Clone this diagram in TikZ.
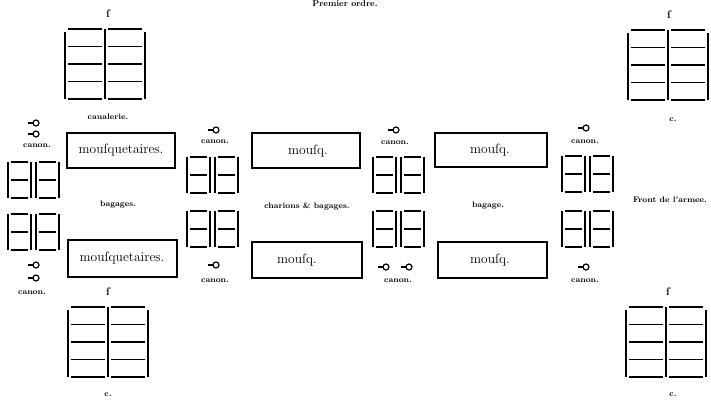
\documentclass[tikz,border=0pt]{standalone}
\begin{document}
\begin{tikzpicture}[x=1pt,y=-1pt,line width=1.3pt,
    lbl/.style={font=\fontsize{8}{8}\selectfont\bfseries,inner sep=0pt},
    sig/.style={font=\fontsize{11}{11}\selectfont\bfseries,inner sep=0pt},
    troop/.style={font=\fontsize{13.5}{14}\selectfont,inner sep=0pt}]
  \useasboundingbox (0,0) rectangle (711,400);
  \node[font=\fontsize{8.5}{9}\selectfont\bfseries,inner sep=0pt] (title) at (345,4) {Premier ordre.};
  % squadrons of horse
  \foreach \x/\y in {65/29, 68/307, 628/30, 626/307} {
    \foreach \r in {0,17.5,35,52.5,70}
      \draw (\x+3,\y+\r) -- ++(34,0) (\x+43,\y+\r) -- ++(34,0);
    \draw (\x,\y+3) -- ++(0,67) (\x+40,\y) -- ++(0,70) (\x+80,\y+3) -- ++(0,67);
  }
  % pikes
  \foreach \x/\y in {8/162, 8/214, 187/157, 187/211, 373/157, 373/211, 562/156, 562/211} {
    \foreach \dx in {0,28} {
      \draw (\x+\dx,\y) -- ++(0,36) (\x+\dx+23,\y) -- ++(0,36);
      \foreach \r in {0,18,36} \draw (\x+\dx+3,\y+\r) -- ++(17,0);
    }
  }
  % cannons
  \foreach \x/\y in {35/123, 35/134, 215/130, 395/130, 585/128, 35/265, 35/278, 215/265, 385/267, 408/267, 585/267} {
    \draw[line width=1.4pt] (\x-7,\y) -- (\x-2,\y);
    \draw[line width=1.2pt] (\x+1,\y) circle (3);
  }
  % musketeers
  \draw (67,133) rectangle (175,168);
  \draw (68,240) rectangle (177,277);
  \draw (252,133) rectangle (360,168);
  \draw (252,242) rectangle (362,278);
  \draw (435,133) rectangle (547,167);
  \draw (438,242) rectangle (547,278);
  \node[troop] (mq1) at (121,150) {mouſquetaires.};
  \node[troop] (mq2) at (122,258) {mouſquetaires.};
  \node[troop] (mq3) at (308,151) {mouſq.};
  \node[troop] (mq4) at (297,260) {mouſq.};
  \node[troop] (mq5) at (490,150) {mouſq.};
  \node[troop] (mq6) at (490,260) {mouſq.};
  % labels
  \node[lbl] (cav) at (108,117) {caualerie.};
  \node[lbl] (bag1) at (118,205) {bagages.};
  \node[lbl] (bag2) at (307,206) {charions \& bagages.};
  \node[lbl] (bag3) at (488,206) {bagage.};
  \node[lbl] (front) at (670,200) {Front de l'armee.};
  \foreach \n/\x/\y in {c1/37/146, c2/32/293, c3/215/142, c4/215/281, c5/395/143, c6/398/281, c7/585/142, c8/585/281}
    \node[lbl] (\n) at (\x,\y) {canon.};
  \foreach \n/\x/\y in {s1/108/14, s2/108/292, s3/669/15, s4/668/292}
    \node[sig] (\n) at (\x,\y) {ſ};
  \node[lbl] (e1) at (108,395) {c.};
  \node[lbl] (e2) at (673,120) {c.};
  \node[lbl] (e3) at (673,395) {c.};
\end{tikzpicture}
\end{document}
